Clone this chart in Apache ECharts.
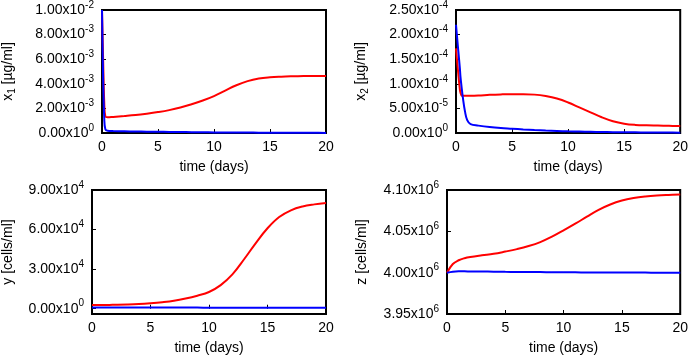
<!DOCTYPE html>
<html>
<head>
<meta charset="utf-8">
<script src="https://cdn.jsdelivr.net/npm/echarts@6/dist/echarts.min.js"></script>
<style>
  html, body { margin: 0; padding: 0; background: #fff; }
  #chart { width: 691px; height: 356px; }
</style>
</head>
<body>
<div id="chart"></div>
<script>
// time points (days) for each panel
var tX1 = [0, 0.1, 0.2, 0.3, 0.5, 1, 2, 3, 4, 5, 6, 7, 8, 9, 10, 11, 12, 13, 14, 15, 16, 17, 18, 19, 20];
var x1Red = [0.0100, 0.0060, 0.0025, 0.00135, 0.00128, 0.00131, 0.00138, 0.00146, 0.00157, 0.00170, 0.00186, 0.00207, 0.00234, 0.00264, 0.00300, 0.00345, 0.00388, 0.00422, 0.00443, 0.00453, 0.00458, 0.00461, 0.00463, 0.00464, 0.00464];
var x1Blue = [0.0100, 0.0045, 0.0012, 0.00030, 0.00018, 0.00016, 0.00014, 0.00012, 0.00011, 0.00010, 0.00009, 0.00008, 0.00007, 0.00006, 0.00005, 0.000045, 0.00004, 0.000035, 0.00003, 0.000025, 0.00002, 0.000018, 0.000015, 0.000012, 0.00001];

var tX2 = [0, 0.2, 0.35, 0.4, 0.5, 0.6, 0.8, 1, 1.3, 2, 3, 4, 5, 6, 7, 8, 9, 10, 11, 12, 13, 14, 15, 16, 17, 18, 19, 20];
var x2Red = [1.72e-4, 1.21e-4, 8.7e-5, 8.2e-5, 7.6e-5, 7.55e-5, 7.55e-5, 7.55e-5, 7.55e-5, 7.6e-5, 7.75e-5, 7.85e-5, 7.9e-5, 7.9e-5, 7.8e-5, 7.5e-5, 7.0e-5, 6.2e-5, 5.2e-5, 4.2e-5, 3.2e-5, 2.4e-5, 1.9e-5, 1.65e-5, 1.55e-5, 1.5e-5, 1.45e-5, 1.4e-5];
var x2Blue = [2.2e-4, 1.68e-4, 1.3e-4, 1.14e-4, 9.3e-5, 7.4e-5, 4.4e-5, 2.6e-5, 1.8e-5, 1.5e-5, 1.2e-5, 1.0e-5, 8.7e-6, 7.3e-6, 6.0e-6, 5.0e-6, 4.2e-6, 3.4e-6, 2.9e-6, 2.4e-6, 2.0e-6, 1.7e-6, 1.5e-6, 1.3e-6, 1.1e-6, 0.9e-6, 0.8e-6, 0.7e-6];

var tYZ = [0, 0.5, 1, 1.5, 2, 3, 4, 5, 6, 7, 8, 9, 10, 11, 12, 13, 14, 15, 16, 17, 18, 19, 20];
var yRed = [2800, 2820, 2850, 2900, 2950, 3150, 3500, 4100, 4900, 6000, 7700, 9900, 12700, 17900, 26000, 37500, 49800, 61000, 69500, 74600, 77500, 79100, 80200];
var yBlue = [1000, 1000, 1000, 990, 980, 960, 940, 920, 900, 880, 860, 840, 820, 800, 790, 780, 770, 760, 750, 740, 730, 720, 710];
var zRed = [4.000e6, 4.0105e6, 4.0150e6, 4.0175e6, 4.0190e6, 4.0210e6, 4.0228e6, 4.0255e6, 4.0285e6, 4.0322e6, 4.0370e6, 4.0435e6, 4.0512e6, 4.0592e6, 4.0678e6, 4.0760e6, 4.0825e6, 4.0872e6, 4.0902e6, 4.0921e6, 4.0933e6, 4.0940e6, 4.0945e6];
var zBlue = [4.0000e6, 4.0012e6, 4.0016e6, 4.0016e6, 4.0015e6, 4.0014e6, 4.0012e6, 4.0010e6, 4.0009e6, 4.0008e6, 4.0007e6, 4.0006e6, 4.0005e6, 4.0004e6, 4.0003e6, 4.0002e6, 4.0002e6, 4.0001e6, 4.0001e6, 4.0001e6, 4.0000e6, 4.0000e6, 4.0000e6];

var yTicks = [0, 30000, 60000, 90000];

var FONT = '"Liberation Sans", Arial, sans-serif';

function sci(v) {
    if (Math.abs(v) < 1e-20) return '{m|0.00x10}{e|0}';
    var e = Math.floor(Math.log10(Math.abs(v)) + 1e-9);
    var m = v / Math.pow(10, e);
    return '{m|' + m.toFixed(2) + 'x10}{e|' + e + '}';
}

function pairs(t, v) {
    var out = [];
    for (var i = 0; i < t.length; i++) out.push([t[i], v[i]]);
    return out;
}

var labelRich = {
    m: { fontSize: 14, lineHeight: 20, color: '#000', fontFamily: FONT },
    e: { fontSize: 10, lineHeight: 10, verticalAlign: 'top', color: '#000', fontFamily: FONT }
};
var nameRich = {
    n: { fontSize: 14, lineHeight: 18, color: '#000', fontFamily: FONT },
    s: { fontSize: 10, lineHeight: 10, verticalAlign: 'bottom', color: '#000', fontFamily: FONT }
};

var grids = [
    { left: 99, top: 9, width: 227, height: 124 },
    { left: 456, top: 9, width: 227, height: 124 },
    { left: 91, top: 190, width: 235, height: 125 },
    { left: 447, top: 190, width: 236, height: 125 }
];

var yDefs = [
    { min: 0, max: 0.01, interval: 0.002, name: '{n|x}{s|1}{n| [µg/ml]}', gap: 85 },
    { min: 0, max: 2.5e-4, interval: 5e-5, name: '{n|x}{s|2}{n| [µg/ml]}', gap: 86 },
    { min: -4000, max: 90000, custom: yTicks, name: '{n|y [cells/ml]}', gap: 75 },
    { min: 3.95e6, max: 4.10e6, interval: 0.05e6, name: '{n|z [cells/ml]}', gap: 76 }
];

var xAxes = [], yAxes = [], series = [];
grids.forEach(function(g, i) {
    g.show = true;
    g.borderColor = '#000';
    g.borderWidth = 2;
    g.backgroundColor = '#fff';
    g.containLabel = false;
    xAxes.push({
        type: 'value', gridIndex: i, min: 0, max: 20, interval: 5,
        name: 'time (days)', nameLocation: 'middle', nameGap: 27,
        nameTextStyle: { fontSize: 14, color: '#000', fontFamily: FONT },
        axisLine: { show: false },
        axisTick: { show: true, inside: true, length: 4, lineStyle: { color: '#000', width: 1 } },
        axisLabel: { margin: 7, fontSize: 14, color: '#000', fontFamily: FONT },
        splitLine: { show: false }
    });
    var d = yDefs[i];
    var ya = {
        type: 'value', gridIndex: i, min: d.min, max: d.max,
        name: d.name, nameLocation: 'middle', nameGap: d.gap, nameRotate: 90,
        nameTextStyle: { rich: nameRich },
        axisLine: { show: false },
        axisTick: { show: true, inside: true, length: 4, lineStyle: { color: '#000', width: 1 } },
        axisLabel: { margin: 8, formatter: sci, rich: labelRich },
        splitLine: { show: false }
    };
    if (d.custom) {
        ya.axisLabel.customValues = d.custom;
        ya.axisTick.customValues = d.custom;
    } else {
        ya.interval = d.interval;
    }
    yAxes.push(ya);
});

var panels = [
    [tX1, x1Red, x1Blue],
    [tX2, x2Red, x2Blue],
    [tYZ, yRed, yBlue],
    [tYZ, zRed, zBlue]
];
panels.forEach(function(p, i) {
    series.push({
        type: 'line', xAxisIndex: i, yAxisIndex: i, data: pairs(p[0], p[1]),
        smooth: 0.4, showSymbol: false, silent: true,
        lineStyle: { color: '#ff0000', width: 2 }
    });
    series.push({
        type: 'line', xAxisIndex: i, yAxisIndex: i, data: pairs(p[0], p[2]),
        smooth: 0.4, showSymbol: false, silent: true,
        lineStyle: { color: '#0000ff', width: 2 }
    });
});

var chart = echarts.init(document.getElementById('chart'), null, { renderer: 'canvas' });
chart.setOption({
    animation: false,
    grid: grids,
    xAxis: xAxes,
    yAxis: yAxes,
    series: series
});
</script>
</body>
</html>
